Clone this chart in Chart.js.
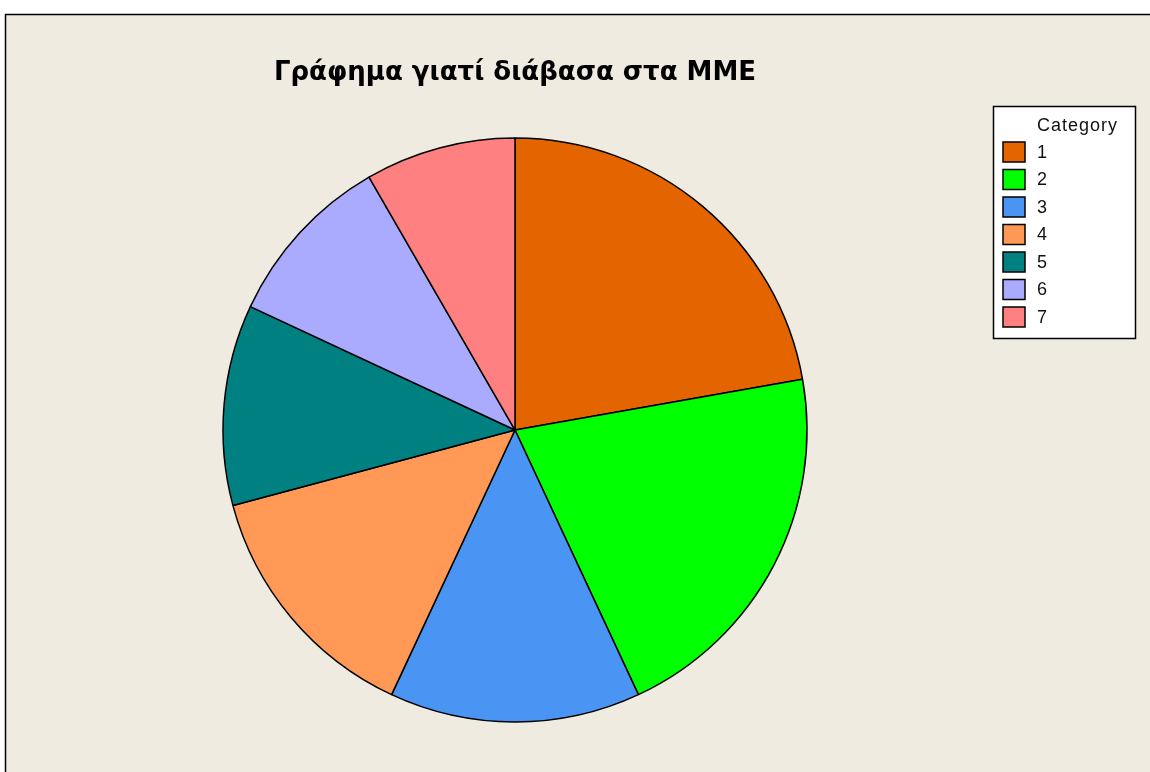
<!DOCTYPE html>
<html>
<head>
<meta charset="utf-8">
<script src="https://cdn.jsdelivr.net/npm/chart.js@4/dist/chart.umd.min.js"></script>
<style>
  html, body { margin: 0; padding: 0; background: #ffffff; }
  #wrap { width: 1150px; height: 772px; }
</style>
</head>
<body>
<div id="wrap"><canvas id="chart" width="1150" height="772"></canvas></div>
<script>
// chart data
const title = "Γράφημα γιατί διάβασα στα ΜΜΕ";
const legendTitle = "Category";
const categories = ["1", "2", "3", "4", "5", "6", "7"];
const counts = [16, 15, 10, 10, 8, 7, 6];
const sliceColors = ["#E46400", "#00FF00", "#4A94F4", "#FF9955", "#008080", "#AAAAFF", "#FF8080"];

const panelColor = "#F0EBE1";

// beige panel with black frame behind the pie
const framePlugin = {
    id: "frame",
    beforeDraw(chart) {
        const c = chart.ctx;
        c.save();
        c.fillStyle = panelColor;
        c.fillRect(5, 14, chart.width, chart.height);
        c.strokeStyle = "#000";
        c.lineWidth = 1.5;
        c.beginPath();
        c.moveTo(5.5, chart.height + 2);
        c.lineTo(5.5, 14.5);
        c.lineTo(chart.width + 2, 14.5);
        c.stroke();
        c.restore();
    }
};

// title and boxed legend drawn on top
const overlayPlugin = {
    id: "overlay",
    afterDraw(chart) {
        const c = chart.ctx;
        const area = chart.chartArea;
        const cx = (area.left + area.right) / 2;
        c.save();
        c.fillStyle = "#000";
        c.font = "bold 26px 'DejaVu Sans'";
        c.textAlign = "center";
        c.textBaseline = "middle";
        c.fillText(title, cx, 73);

        // legend box
        const bx = 993, by = 106, bw = 142, bh = 232;
        c.fillStyle = "#fff";
        c.fillRect(bx, by, bw, bh);
        c.strokeStyle = "#000";
        c.lineWidth = 1.5;
        c.strokeRect(bx + 0.5, by + 0.5, bw, bh);

        c.fillStyle = "#111";
        c.font = "18px 'Liberation Sans'";
        c.textAlign = "left";
        c.letterSpacing = "1px";
        c.fillText(legendTitle, 1037, 126);
        c.letterSpacing = "0px";

        const labels = chart.data.labels;
        const colors = chart.data.datasets[0].backgroundColor;
        labels.forEach((lab, i) => {
            const y = 142 + i * 27.5;
            c.fillStyle = colors[i];
            c.fillRect(1003, y, 22, 20);
            c.strokeStyle = "#000";
            c.lineWidth = 1.5;
            c.strokeRect(1003, y, 22, 20);
            c.fillStyle = "#111";
            c.fillText(lab, 1037, y + 11);
        });
        c.restore();
    }
};

const ctx = document.getElementById("chart").getContext("2d");

let chart = new Chart(ctx, {
    type: "pie",
    data: {
        labels: categories,
        datasets: [{
            data: counts,
            backgroundColor: sliceColors,
            borderColor: "#000",
            borderWidth: 1.5,
            borderAlign: "center",
            hoverOffset: 0,
            offset: 0,
            radius: 292
        }]
    },
    options: {
        responsive: false,
        animation: false,
        layout: {
            padding: { left: 0, right: 120, top: 88, bottom: 0 }
        },
        plugins: {
            legend: { display: false },
            title: { display: false },
            tooltip: { enabled: false }
        }
    },
    plugins: [framePlugin, overlayPlugin]
});
</script>
</body>
</html>
